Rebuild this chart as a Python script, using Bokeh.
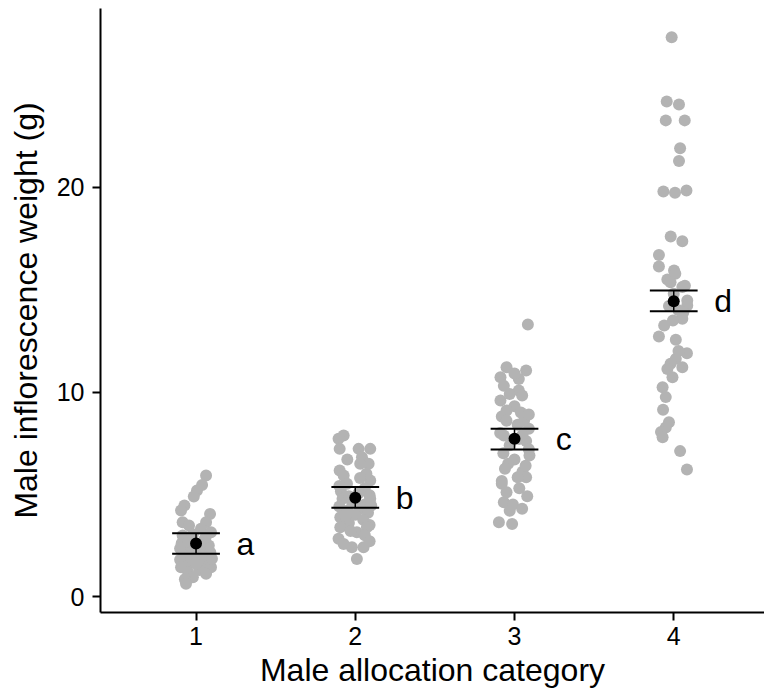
from bokeh.plotting import figure
from bokeh.models import Range1d, FixedTicker, ColumnDataSource
from bokeh.embed import file_html
from bokeh.resources import INLINE
from bokeh.core.properties import value

categories = [1, 2, 3, 4]
letters = ["a", "b", "c", "d"]

# group 1
g1_vals = [5.92, 5.45, 5.18, 4.89, 4.45, 4.21, 4.04, 3.63, 3.63, 3.47, 3.32, 3.14, 2.98, 2.85, 2.75,
           2.60, 2.50, 2.45, 2.30, 2.20, 2.15, 2.05, 1.95, 1.90, 1.80, 1.75, 1.65, 1.55, 1.50, 1.43,
           1.43, 1.30, 1.20, 1.12, 0.94, 0.85, 0.63, 2.90, 3.05, 2.35, 1.85, 2.70, 1.60, 2.55]
g1_jit = [0.063, 0.038, 0.006, -0.014, -0.073, -0.094, 0.088, 0.063, -0.084, -0.044, 0.031, 0.094, -0.084, -0.03, 0.05,
          -0.09, 0.08, -0.02, 0.03, -0.07, 0.09, 0.0, -0.06, 0.06, -0.1, 0.04, -0.03, 0.08, -0.08, 0.094,
          -0.094, 0.02, -0.05, 0.063, -0.02, -0.07, -0.063, 0.06, -0.02, -0.1, 0.1, -0.05, 0.0, 0.02]
# group 2
g2_vals = [7.87, 7.71, 7.22, 7.22, 7.22, 6.81, 6.49, 6.49, 6.16, 5.92, 5.67, 5.51, 5.30, 5.15, 5.05,
           4.95, 4.78, 4.78, 4.60, 4.50, 4.40, 4.30, 4.20, 4.10, 4.00, 3.88, 3.75, 3.60, 3.50, 3.39,
           3.39, 3.14, 3.00, 2.82, 2.57, 2.41, 2.41, 1.84, 6.00, 5.80, 5.40, 4.90, 4.45, 3.95, 3.20,
           2.70, 6.70]
g2_jit = [-0.073, -0.105, -0.098, 0.021, 0.094, 0.042, 0.084, 0.031, -0.098, -0.073, 0.094, -0.052, 0.06, -0.09, 0.02,
          0.09, 0.094, -0.08, -0.02, 0.06, -0.1, 0.03, -0.05, 0.08, 0.0, -0.094, 0.05, -0.04, 0.09, 0.073,
          -0.094, 0.01, 0.06, -0.105, -0.073, -0.021, 0.052, 0.01, 0.07, 0.03, -0.1, -0.04, 0.1, -0.06, -0.03,
          0.09, -0.05]
# group 3
g3_vals = [13.30, 11.21, 11.05, 10.72, 10.64, 10.30, 10.07, 9.83, 9.58, 9.30, 9.10, 9.00, 8.80, 8.60, 8.60,
           8.40, 8.20, 8.00, 7.87, 7.70, 7.60, 7.40, 7.20, 7.00, 6.90, 6.70, 6.49, 6.25, 6.10, 5.83,
           5.83, 5.65, 5.51, 5.30, 5.10, 4.90, 4.61, 4.50, 4.29, 4.20, 3.63, 3.55, 9.90, 8.90, 7.90,
           6.40, 10.90]
g3_jit = [0.084, -0.05, 0.073, -0.088, 0.027, -0.067, 0.027, 0.048, -0.088, 0.0, -0.05, 0.04, -0.08, 0.06, -0.05,
          0.02, 0.09, -0.09, -0.067, 0.03, 0.073, -0.03, 0.09, -0.07, 0.094, 0.0, -0.04, -0.06, 0.05, 0.073,
          0.02, -0.08, -0.08, 0.03, -0.05, 0.08, -0.067, -0.01, 0.048, -0.03, -0.098, -0.015, -0.03, 0.09, 0.05,
          0.07, 0.0]
# group 4
g4_vals = [27.35, 24.20, 24.06, 23.28, 23.28, 21.92, 21.29, 19.80, 19.74, 19.85, 17.60, 17.37, 16.70, 16.14, 15.94,
           15.78, 15.50, 15.37, 15.13, 14.80, 14.47, 14.23, 14.20, 13.90, 13.58, 13.50, 13.25, 12.71, 12.55, 11.90,
           11.62, 11.38, 11.21, 11.13, 10.72, 10.23, 9.75, 9.13, 8.52, 8.27, 8.04, 7.79, 7.11, 6.21, 12.00,
           14.00, 15.20]
g4_jit = [-0.013, -0.044, 0.033, -0.05, 0.069, 0.04, 0.033, -0.065, 0.008, 0.08, -0.019, 0.054, -0.093, -0.093, 0.002,
          0.01, -0.04, -0.02, 0.054, 0.0, 0.085, 0.085, -0.03, 0.06, 0.054, -0.005, -0.06, -0.093, 0.013, 0.083,
          0.013, -0.02, 0.054, -0.04, -0.008, -0.07, -0.05, -0.067, -0.03, -0.05, -0.08, -0.07, 0.04, 0.083, 0.03,
          0.03, 0.07]

means = [2.59, 4.83, 7.71, 14.44]
lower = [2.09, 4.34, 7.19, 13.95]
upper = [3.10, 5.35, 8.20, 14.96]

FONT = "Liberation Sans"

p = figure(width=764, height=696, x_range=Range1d(0.4, 4.57), y_range=Range1d(-0.78, 28.75),
           output_backend="svg", toolbar_location=None,
           min_border_left=100, min_border_right=0, min_border_top=8, min_border_bottom=84)
p.outline_line_color = None
p.xgrid.visible = False
p.ygrid.visible = False
p.background_fill_color = "white"

xs, ys = [], []
for cat, vals, jit in zip(categories, [g1_vals, g2_vals, g3_vals, g4_vals], [g1_jit, g2_jit, g3_jit, g4_jit]):
    for v, j in zip(vals, jit):
        xs.append(cat + j)
        ys.append(v)
p.scatter(xs, ys, size=12, fill_color="#B3B3B3", line_color=None)

hw = 0.15
p.segment(x0=[c - hw for c in categories], x1=[c + hw for c in categories], y0=upper, y1=upper,
          line_color="black", line_width=2)
p.segment(x0=[c - hw for c in categories], x1=[c + hw for c in categories], y0=lower, y1=lower,
          line_color="black", line_width=2)
p.segment(x0=categories, x1=categories, y0=lower, y1=upper, line_color="black", line_width=1.5)
p.scatter(categories, means, size=12, fill_color="black", line_color=None)

src = ColumnDataSource(dict(x=[c + 0.31 for c in categories], y=means, t=letters))
p.text(x="x", y="y", text="t", source=src, text_font=value(FONT), text_font_size="32px",
       text_align="center", text_baseline="middle", text_color="black")

for ax in (p.xaxis[0], p.yaxis[0]):
    ax.axis_line_width = 2
    ax.axis_line_color = "black"
    ax.major_tick_line_width = 2
    ax.major_tick_line_color = "black"
    ax.major_tick_out = 8
    ax.major_tick_in = 0
    ax.minor_tick_line_color = None
    ax.major_label_text_font = FONT
    ax.major_label_text_font_size = "25px"
    ax.major_label_text_color = "black"
    ax.axis_label_text_font = FONT
    ax.axis_label_text_font_size = "32px"
    ax.axis_label_text_font_style = "normal"
    ax.axis_label_text_color = "black"

p.xaxis[0].ticker = FixedTicker(ticks=[1, 2, 3, 4])
p.yaxis[0].ticker = FixedTicker(ticks=[0, 10, 20])
p.xaxis[0].axis_label = "Male allocation category"
p.yaxis[0].axis_label = "Male inflorescence weight (g)"
p.xaxis[0].major_label_standoff = 6
p.yaxis[0].major_label_standoff = 8
p.xaxis[0].axis_label_standoff = 4
p.yaxis[0].axis_label_standoff = 10

open("out.html", "w").write(file_html(p, INLINE))
